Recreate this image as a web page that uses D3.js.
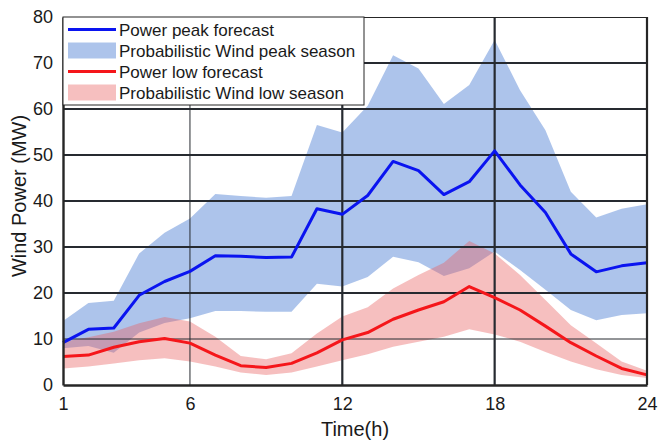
<!DOCTYPE html>
<html>
<head>
<meta charset="utf-8">
<script src="https://cdn.jsdelivr.net/npm/d3@7"></script>
<style>
  body { margin: 0; background: #fff; }
  text { font-family: "Liberation Sans", Arial, sans-serif; fill: #1a1a1a; }
</style>
</head>
<body>
<svg id="chart" width="659" height="442"></svg>
<script>
// hours 1..24
var hours = d3.range(1, 25)

// peak season
var peakForecast = [9.2, 12.1, 12.4, 19.5, 22.5, 24.7, 28.1, 28.0, 27.7, 27.8, 38.3, 37.1,
                    41.2, 48.6, 46.6, 41.4, 44.2, 50.9, 43.5, 37.5, 28.5, 24.6, 25.9, 26.6]
var peakUpper = [13.9, 17.8, 18.3, 28.6, 33.1, 36.2, 41.5, 41.1, 40.7, 41.1, 56.5, 54.9,
                 60.7, 71.7, 68.8, 61.1, 65.2, 75.0, 64.1, 55.4, 42.0, 36.4, 38.3, 39.3]
var peakLower = [8.0, 8.5, 7.0, 11.4, 13.5, 14.5, 16.1, 16.1, 15.9, 15.9, 22.0, 21.4,
                 23.5, 27.9, 26.7, 23.7, 25.4, 29.0, 25.0, 20.7, 16.3, 14.1, 15.2, 15.6]

// low season
var lowForecast = [6.2, 6.5, 8.2, 9.4, 10.1, 9.1, 6.5, 4.2, 3.8, 4.7, 7.0, 9.8,
                   11.4, 14.3, 16.3, 18.1, 21.4, 19.0, 16.3, 12.8, 9.2, 6.3, 3.6, 2.2]
var lowUpper = [9.4, 10.4, 11.6, 13.4, 14.8, 13.8, 10.5, 6.3, 5.6, 6.9, 11.2, 14.9,
                16.9, 21.0, 23.9, 26.6, 31.3, 28.6, 23.9, 18.5, 13.0, 9.1, 5.1, 3.1]
var lowLower = [3.6, 4.0, 4.7, 5.4, 5.8, 5.1, 4.0, 2.7, 2.2, 2.7, 4.0, 5.4,
                6.7, 8.3, 9.4, 10.5, 12.1, 11.0, 9.4, 7.2, 5.1, 3.4, 2.2, 1.5]

var xTicks = [1, 6, 12, 18, 24]
var yTicks = [0, 10, 20, 30, 40, 50, 60, 70, 80]
var gridX = [6, 12, 18]
var gridY = [10, 20, 30, 40, 50, 60, 70]
var thinGrid = { x: [6], y: [10] }

var legendItems = [
  { label: 'Power peak forecast', kind: 'line', color: '#0a14f0' },
  { label: 'Probabilistic Wind peak season', kind: 'band', color: 'rgba(74,124,210,0.45)' },
  { label: 'Power low forecast', kind: 'line', color: '#f5161a' },
  { label: 'Probabilistic Wind low season', kind: 'band', color: 'rgba(232,96,96,0.4)' }
]

var svg = d3.select('#chart')
var m = { left: 63, top: 17, right: 12, bottom: 57 }
var W = 659 - m.left - m.right
var H = 442 - m.top - m.bottom

var x = d3.scaleLinear().domain([1, 24]).range([0, W])
var y = d3.scaleLinear().domain([0, 80]).range([H, 0])

var g = svg.append('g').attr('transform', 'translate(' + m.left + ',' + m.top + ')')

function band(up, lo) {
  return d3.area()
    .x(function (d, i) { return x(hours[i]) })
    .y0(function (d, i) { return y(lo[i]) })
    .y1(function (d, i) { return y(up[i]) })(hours)
}

function line(vals) {
  return d3.line()
    .x(function (d, i) { return x(hours[i]) })
    .y(function (d) { return y(d) })(vals)
}

// Bands
g.append('path').attr('d', band(peakUpper, peakLower)).attr('fill', legendItems[1].color)
g.append('path').attr('d', band(lowUpper, lowLower)).attr('fill', legendItems[3].color)

// Grid
g.selectAll('line.gy').data(gridY).enter().append('line')
  .attr('x1', 0).attr('x2', W)
  .attr('y1', function (d) { return y(d) }).attr('y2', function (d) { return y(d) })
  .attr('stroke', '#262a30')
  .attr('stroke-width', function (d) { return thinGrid.y.indexOf(d) >= 0 ? 1 : 2.2 })

g.selectAll('line.gx').data(gridX).enter().append('line')
  .attr('y1', 0).attr('y2', H)
  .attr('x1', function (d) { return x(d) }).attr('x2', function (d) { return x(d) })
  .attr('stroke', '#262a30')
  .attr('stroke-width', function (d) { return thinGrid.x.indexOf(d) >= 0 ? 1 : 2.2 })

// Lines
g.append('path').attr('d', line(peakForecast)).attr('fill', 'none')
  .attr('stroke', legendItems[0].color).attr('stroke-width', 3).attr('stroke-linejoin', 'round')
g.append('path').attr('d', line(lowForecast)).attr('fill', 'none')
  .attr('stroke', legendItems[2].color).attr('stroke-width', 3).attr('stroke-linejoin', 'round')

// Box
g.append('line').attr('x1', 0).attr('x2', W).attr('y1', 0.5).attr('y2', 0.5)
  .attr('stroke', '#262626').attr('stroke-width', 1)
g.append('line').attr('x1', W).attr('x2', W).attr('y1', 0).attr('y2', H)
  .attr('stroke', '#262626').attr('stroke-width', 2.2)

// Axes
var xAxis = g.append('g').attr('transform', 'translate(0,' + H + ')')
  .call(d3.axisBottom(x).tickValues(xTicks).tickSize(0).tickPadding(12).tickFormat(d3.format('d')))
var yAxis = g.append('g')
  .call(d3.axisLeft(y).tickValues(yTicks).tickSize(0).tickPadding(10))

;[xAxis, yAxis].forEach(function (a) {
  a.select('.domain').attr('stroke', '#262626').attr('stroke-width', 2.4)
  a.selectAll('text').attr('font-size', 18).attr('fill', '#1a1a1a')
    .style('font-family', '"Liberation Sans", Arial, sans-serif')
})

// Labels
svg.append('text').attr('x', m.left + W / 2).attr('y', 436)
  .attr('text-anchor', 'middle').attr('font-size', 20).text('Time(h)')
svg.append('text').attr('transform', 'translate(26,196) rotate(-90)')
  .attr('text-anchor', 'middle').attr('font-size', 20).text('Wind Power (MW)')

// Legend
var lg = svg.append('g').attr('transform', 'translate(63,17)')
lg.append('rect').attr('x', 0).attr('y', 0).attr('width', 301).attr('height', 88)
  .attr('fill', '#fff').attr('stroke', '#262626').attr('stroke-width', 1)

var rows = lg.selectAll('g.row').data(legendItems).enter().append('g')
  .attr('transform', function (d, i) { return 'translate(0,' + (12.5 + i * 21) + ')' })

rows.filter(function (d) { return d.kind === 'line' }).append('line')
  .attr('x1', 5).attr('x2', 53).attr('y1', 0).attr('y2', 0)
  .attr('stroke', function (d) { return d.color }).attr('stroke-width', 3)
rows.filter(function (d) { return d.kind === 'band' }).append('rect')
  .attr('x', 5).attr('y', -8).attr('width', 48).attr('height', 16)
  .attr('fill', function (d) { return d.color })
rows.append('text').attr('x', 56).attr('y', 6).attr('font-size', 17)
  .text(function (d) { return d.label })
</script>
</body>
</html>
